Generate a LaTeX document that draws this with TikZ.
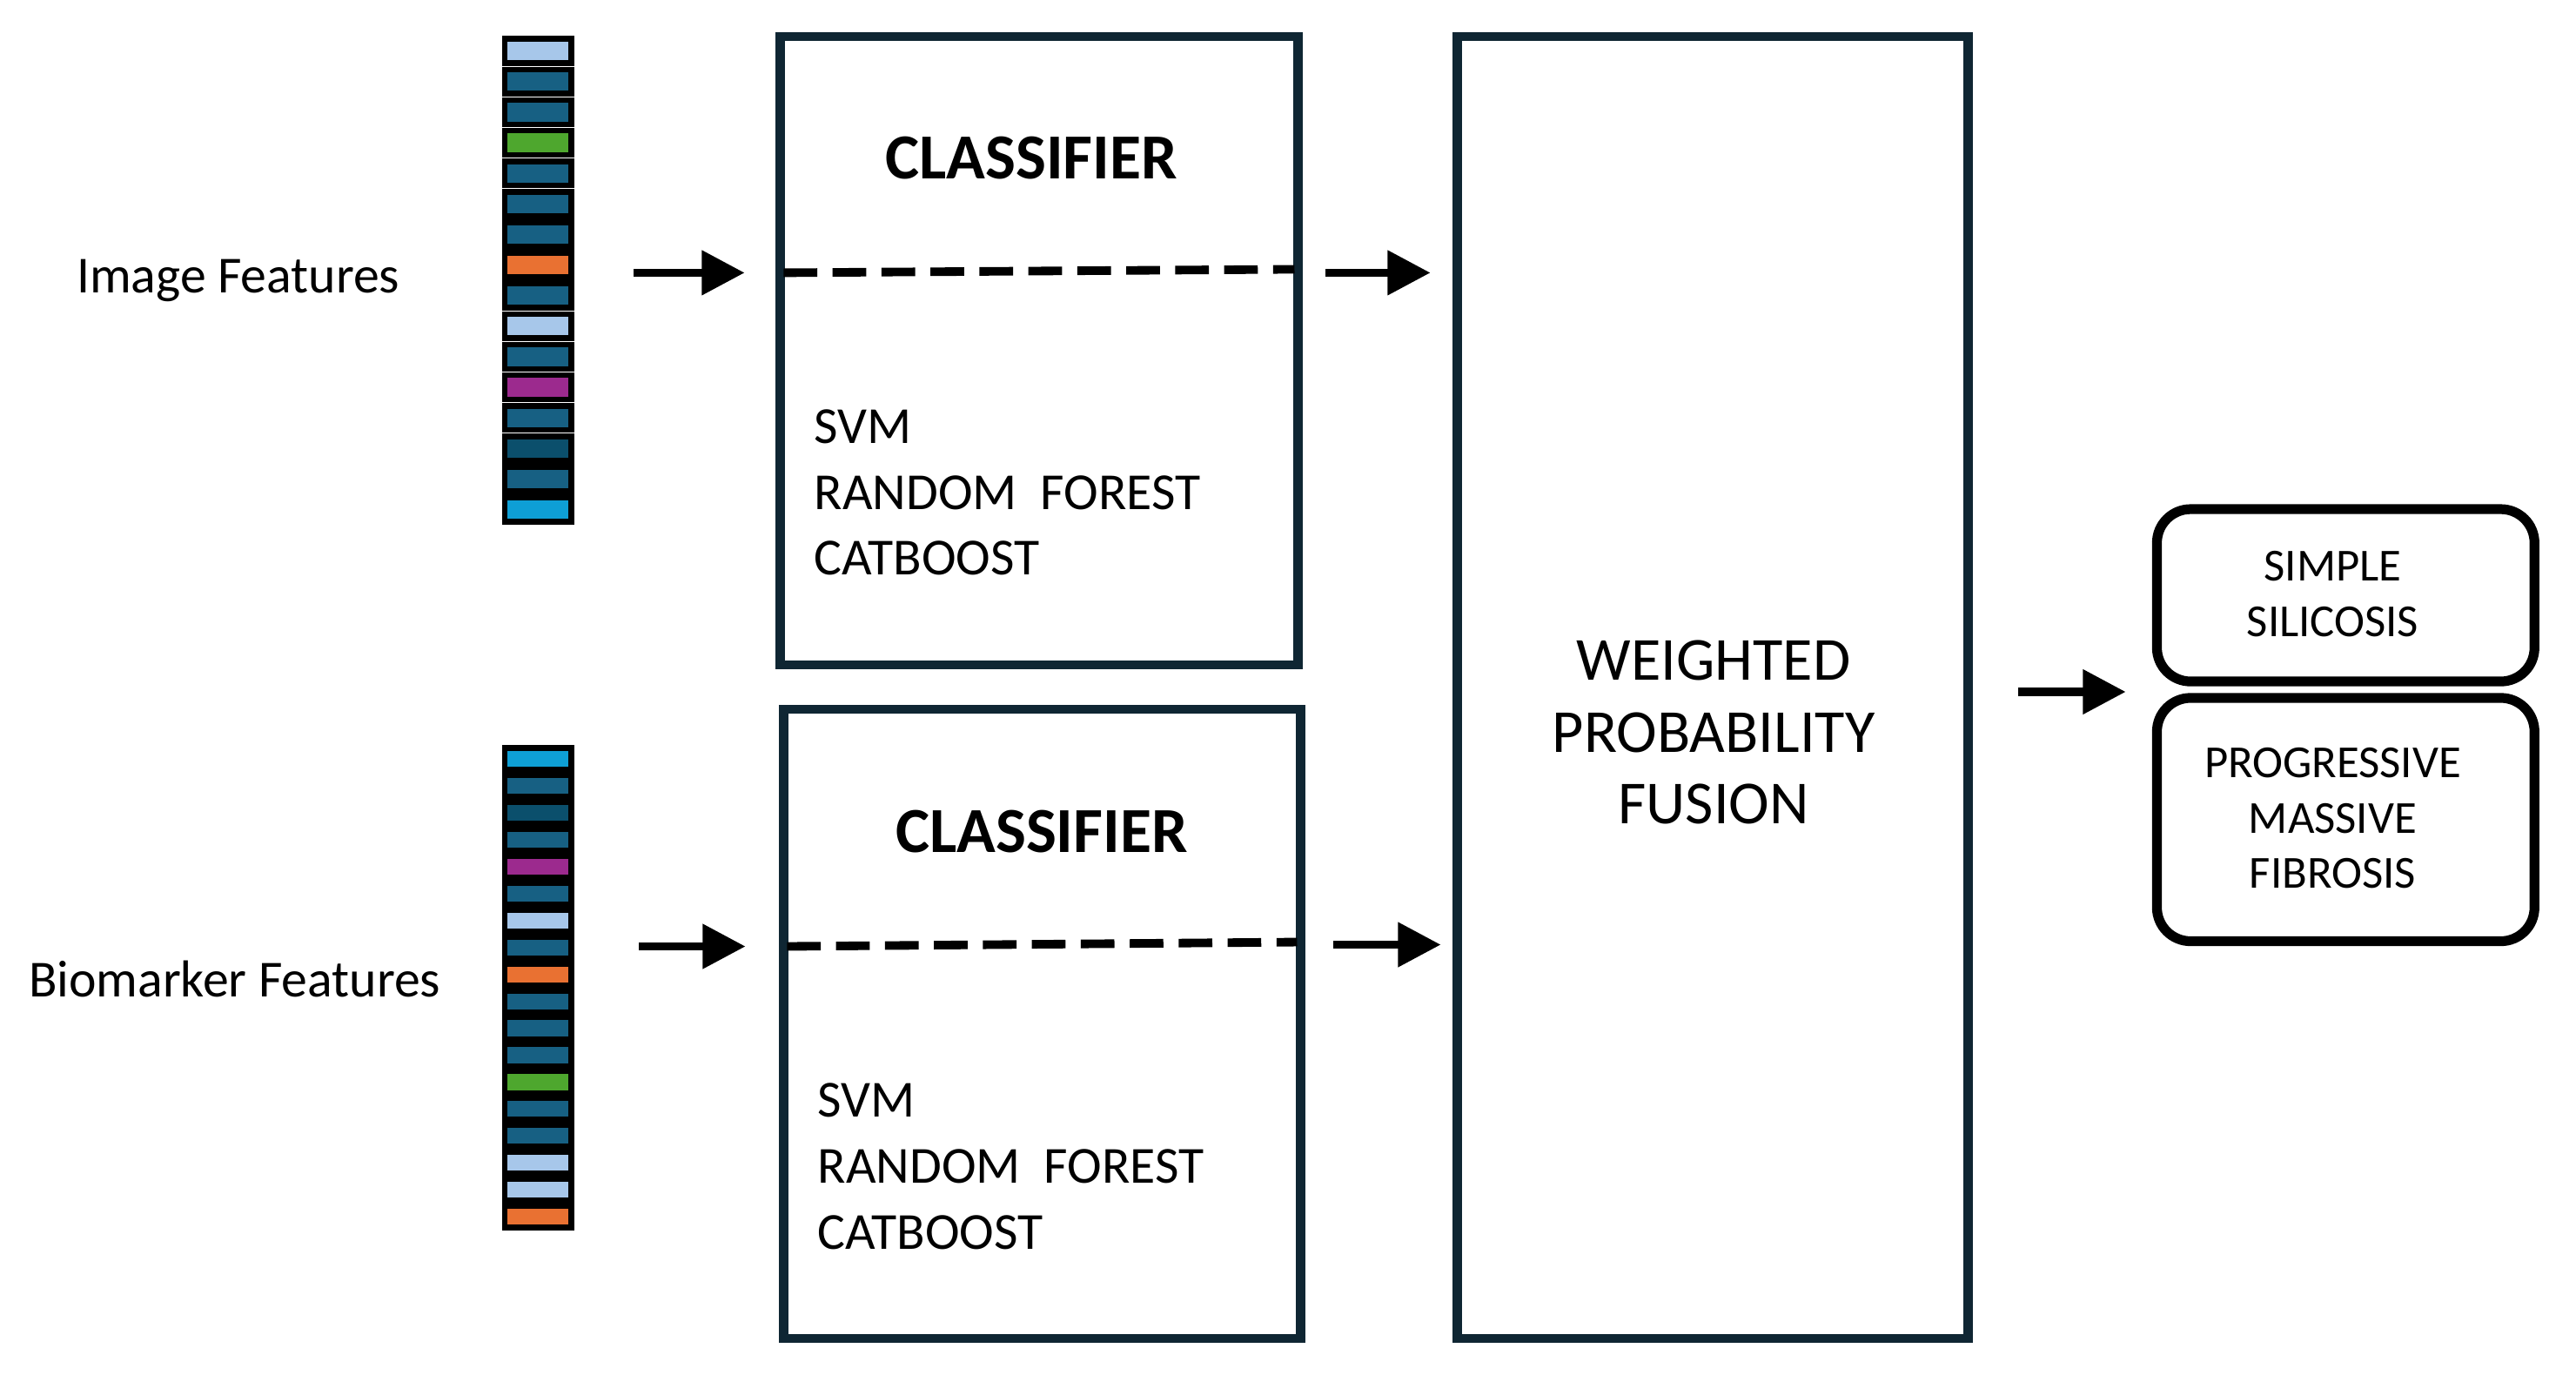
\documentclass[tikz,border=0pt]{standalone}
\usepackage{fontspec}
\setmainfont{Carlito}
\usetikzlibrary{arrows.meta}
\definecolor{cL}{HTML}{A7C7EA}\definecolor{cT}{HTML}{176083}\definecolor{cG}{HTML}{4EA72E}
\definecolor{cO}{HTML}{E97132}\definecolor{cP}{HTML}{9C2A8E}\definecolor{cD}{HTML}{0B4F6C}
\definecolor{cC}{HTML}{0E9FD5}\definecolor{navy}{HTML}{0F2633}
\begin{document}
\begin{tikzpicture}[x=0.00995cm,y=-0.00995cm,
  box/.style={draw=navy,line width=2.9pt},
  obox/.style={draw=black,line width=3.2pt,rounded corners=11pt},
  arr/.style={line width=2.8pt,-{Triangle[length=14pt,width=14pt]}},
  mydash/.style={line width=2.8pt,dash pattern=on 11pt off 5pt},
  lab/.style={font=\fontsize{17}{20}\selectfont},
  mlab/.style={font=\fontsize{17}{20}\selectfont,anchor=west},
  bar/.style={draw=black,line width=1.9pt}]
\useasboundingbox (0,0) rectangle (2975,1587);
\node[lab] (imf) at (275,324) {Image Features};
\node[lab] (bmf) at (271,1131) {Biomarker Features};
% bars
\foreach \c [count=\i from 0] in {cL,cT,cT,cG,cT,cT,cT,cO,cT,cL,cT,cP,cT,cD,cT,cC}
  \draw[bar,fill=\c] (583,{45+35.3*\i}) rectangle (660,{45+35.3*\i+28});
\foreach \c [count=\i from 0] in {cC,cT,cD,cT,cP,cT,cL,cT,cO,cT,cT,cT,cG,cT,cT,cL,cL,cO}
  \draw[bar,fill=\c] (583,{864+31.1*\i}) rectangle (660,{864+31.1*\i+25});
% classifiers
\draw[box] (901,42) rectangle (1499,768);
\node[font=\bfseries\fontsize{21}{24}\selectfont] (t1) at (1191,182) {CLASSIFIER};
\coordinate (d1a) at (905,315); \coordinate (d1b) at (1495,311);
\draw[mydash] (d1a) -- (d1b);
\node[mlab] (m1a) at (928,493) {SVM};
\node[mlab] (m1b) at (928,569) {RANDOM\ \ FOREST};
\node[mlab] (m1c) at (928,645) {CATBOOST};
\draw[box] (905,819) rectangle (1502,1546);
\node[font=\bfseries\fontsize{21}{24}\selectfont] (t2) at (1203,960) {CLASSIFIER};
\coordinate (d2a) at (909,1093); \coordinate (d2b) at (1498,1088);
\draw[mydash] (d2a) -- (d2b);
\node[mlab] (m2a) at (932,1271) {SVM};
\node[mlab] (m2b) at (932,1347) {RANDOM\ \ FOREST};
\node[mlab] (m2c) at (932,1423) {CATBOOST};
% fusion
\draw[box] (1683,42) rectangle (2273,1546);
\node[align=center,font=\fontsize{20}{23.5}\selectfont] (fus) at (1979,846) {WEIGHTED\\PROBABILITY\\FUSION};
% outputs
\draw[obox] (2491,588) rectangle (2927,787);
\node[align=center,font=\fontsize{15}{18}\selectfont] (o1) at (2694,686) {SIMPLE\\SILICOSIS};
\draw[obox] (2491,806) rectangle (2927,1087);
\node[align=center,font=\fontsize{15}{18}\selectfont] (o2) at (2694,945) {PROGRESSIVE\\MASSIVE\\FIBROSIS};
% arrows
\coordinate (a1s) at (732,315); \coordinate (a1e) at (860,315);
\coordinate (a2s) at (1531,315); \coordinate (a2e) at (1652,315);
\coordinate (a3s) at (738,1093); \coordinate (a3e) at (861,1093);
\coordinate (a4s) at (1540,1091); \coordinate (a4e) at (1664,1091);
\coordinate (a5s) at (2331,799); \coordinate (a5e) at (2455,799);
\draw[arr] (a1s) -- (a1e); \draw[arr] (a2s) -- (a2e);
\draw[arr] (a3s) -- (a3e); \draw[arr] (a4s) -- (a4e);
\draw[arr] (a5s) -- (a5e);
\end{tikzpicture}
\end{document}
